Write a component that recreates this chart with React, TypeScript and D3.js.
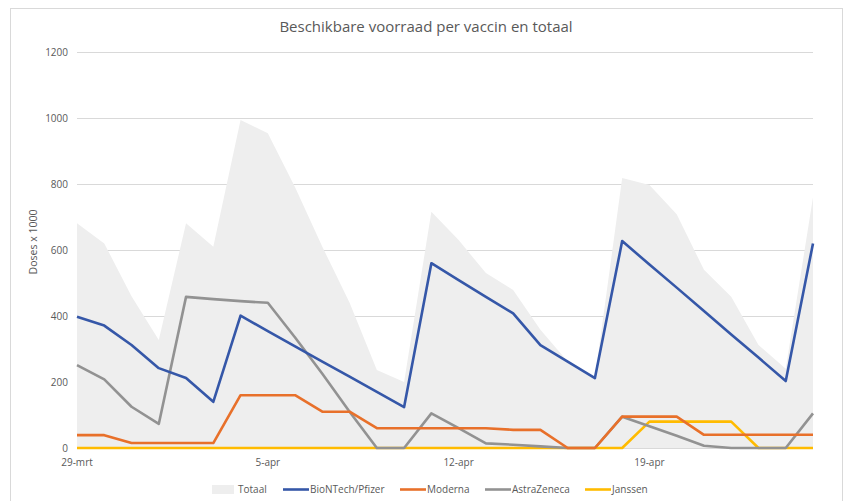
import { useEffect, useRef } from 'react'
import * as d3 from 'd3'

// days since 29-mrt, one point per day
const tickLabels = ['29-mrt', '5-apr', '12-apr', '19-apr']
const tickDays = [0, 7, 14, 21]
const yTicks = [0, 200, 400, 600, 800, 1000, 1200]

const totaal = [681, 620, 460, 327, 681, 610, 994, 954, 790, 610, 440, 236, 200, 716, 630, 530, 479, 358, 262, 212, 818, 797, 708, 540, 458, 312, 240, 760]
const biontech = [398, 371, 312, 242, 212, 140, 401, 354, 308, 262, 216, 170, 124, 560, 509, 458, 408, 312, 262, 212, 627, 556, 486, 415, 344, 274, 203, 620]
const moderna = [39, 39, 15, 15, 15, 15, 160, 160, 160, 110, 110, 60, 60, 60, 60, 60, 55, 55, 0, 0, 95, 95, 95, 40, 40, 40, 40, 40]
const astrazeneca = [251, 208, 125, 73, 458, 451, 445, 440, 335, 225, 110, 0, 0, 105, 60, 14, 10, 5, 0, 0, 95, 66, 37, 7, 0, 0, 0, 105]
const janssen = [0, 0, 0, 0, 0, 0, 0, 0, 0, 0, 0, 0, 0, 0, 0, 0, 0, 0, 0, 0, 0, 80, 80, 80, 80, 0, 0, 0]

const seriesNames = ['BioNTech/Pfizer', 'Moderna', 'AstraZeneca', 'Janssen']
const seriesColors = ['#3557a8', '#e8702a', '#929292', '#ffbb00']
const series = [biontech, moderna, astrazeneca, janssen]

const font = '"Open Sans", sans-serif'

const App = () => {
  const ref = useRef(null)
  const width = 846
  const height = 501

  useEffect(() => {
    if (!ref.current) return
    const svg = d3.select(ref.current)
    svg.selectAll('*').remove()

    const x = d3.scaleLinear().domain([0, totaal.length - 1]).range([77, 813])
    const y = d3.scaleLinear().domain([0, 1200]).range([448, 52])

    // chart frame
    svg.append('rect')
      .attr('x', 10.5).attr('y', 8.5)
      .attr('width', 832).attr('height', 500)
      .attr('fill', '#fff')
      .attr('stroke', '#d9d9d9')

    svg.append('text')
      .text('Beschikbare voorraad per vaccin en totaal')
      .attr('x', 426).attr('y', 32)
      .attr('text-anchor', 'middle')
      .style('font-family', font)
      .style('font-size', '15px')
      .attr('fill', '#595959')

    // gridlines + y labels
    const grid = svg.append('g')
    grid.selectAll('line').data(yTicks).enter().append('line')
      .attr('x1', 77).attr('x2', 813)
      .attr('y1', d => Math.round(y(d)) + 0.5).attr('y2', d => Math.round(y(d)) + 0.5)
      .attr('stroke', '#d9d9d9')
    grid.selectAll('text').data(yTicks).enter().append('text')
      .text(d => d)
      .attr('x', 68).attr('y', d => y(d) + 3.5)
      .attr('text-anchor', 'end')
      .style('font-family', font)
      .style('font-size', '10px')
      .attr('fill', '#595959')

    svg.append('text')
      .text('Doses x 1000')
      .attr('transform', 'translate(37,242) rotate(-90)')
      .attr('text-anchor', 'middle')
      .style('font-family', font)
      .style('font-size', '10.5px')
      .attr('fill', '#595959')

    // totaal area
    const area = d3.area<number>()
      .x((d, i) => x(i))
      .y0(y(0))
      .y1(d => y(d))
    svg.append('path')
      .datum(totaal)
      .attr('d', area)
      .attr('fill', '#eeeeee')

    const line = d3.line<number>()
      .x((d, i) => x(i))
      .y(d => y(d))

    // draw in reverse so BioNTech ends on top like the source
    const order = [3, 2, 1, 0]
    order.forEach(k => {
      svg.append('path')
        .datum(series[k])
        .attr('d', line)
        .attr('fill', 'none')
        .attr('stroke', seriesColors[k])
        .attr('stroke-width', 2.6)
        .attr('stroke-linejoin', 'round')
    })

    // x labels
    svg.selectAll('.xlab').data(tickDays).enter().append('text')
      .attr('class', 'xlab')
      .text((d, i) => tickLabels[i])
      .attr('x', d => x(d)).attr('y', 466)
      .attr('text-anchor', 'middle')
      .style('font-family', font)
      .style('font-size', '10px')
      .attr('fill', '#595959')

    // legend
    const legendX = [212, 283, 400, 485, 585]
    const lg = svg.append('g')
    lg.append('rect')
      .attr('x', legendX[0]).attr('y', 485)
      .attr('width', 22).attr('height', 9)
      .attr('fill', '#eeeeee')
    lg.append('text')
      .text('Totaal')
      .attr('x', legendX[0] + 26).attr('y', 493)
      .style('font-family', font).style('font-size', '10px')
      .attr('fill', '#595959')
    seriesNames.forEach((name, k) => {
      const lx = legendX[k + 1]
      lg.append('line')
        .attr('x1', lx).attr('x2', lx + 26)
        .attr('y1', 489.5).attr('y2', 489.5)
        .attr('stroke', seriesColors[k])
        .attr('stroke-width', 2.6)
      lg.append('text')
        .text(name)
        .attr('x', lx + 27).attr('y', 493)
        .style('font-family', font).style('font-size', '10px')
        .attr('fill', '#595959')
    })
  }, [])

  return (
    <div style={{ position: 'absolute', left: 0, top: 0 }}>
      <svg width={width} height={height} ref={ref} style={{ display: 'block' }} />
    </div>
  )
}

export default App
